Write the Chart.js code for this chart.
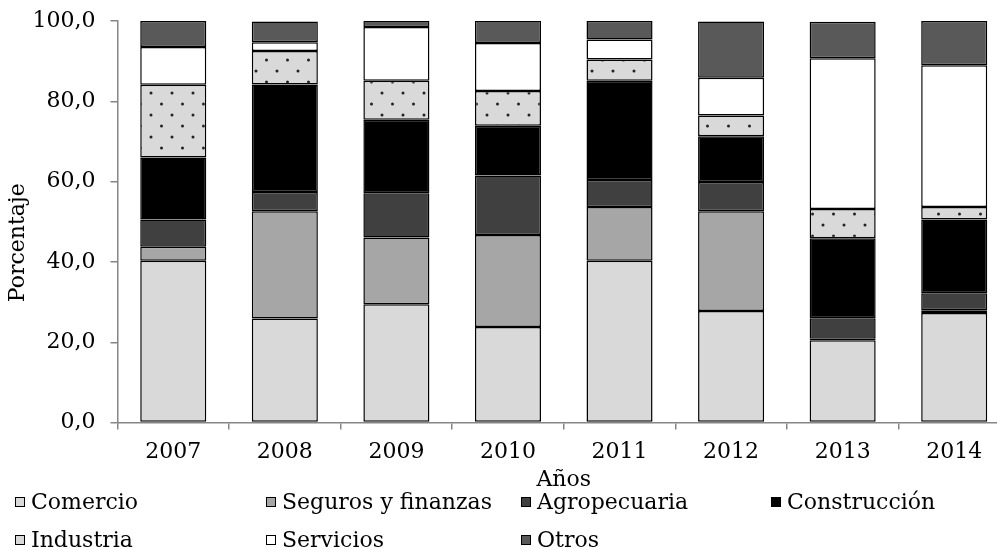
<!DOCTYPE html>
<html>
<head>
<meta charset="utf-8">
<script src="https://cdn.jsdelivr.net/npm/chart.js@4"></script>
<style>
  html, body { margin: 0; padding: 0; background: #fff; overflow: hidden; }
  #wrap { position: relative; width: 1010px; height: 550px; }
  #legend { position: absolute; left: 0; top: 0; width: 1010px; height: 550px; pointer-events: none;
            font-family: "DejaVu Serif", serif; font-size: 22px; color: #000; }
  .item { position: absolute; display: flex; align-items: center; white-space: nowrap; line-height: 1; }
  .box { width: 8px; height: 8px; border: 1px solid #000; margin-right: 6px; }
</style>
</head>
<body>
<div id="wrap">
  <canvas id="myChart" width="1010" height="550"></canvas>
  <div id="legend"></div>
</div>
<script>
const years = ["2007", "2008", "2009", "2010", "2011", "2012", "2013", "2014"];
const yTicks = [0, 20, 40, 60, 80, 100];

const comercio     = [40.3, 25.9, 29.5, 23.8, 40.3, 27.8, 20.5, 27.3];
const seguros      = [3.5, 26.7, 16.6, 22.9, 13.4, 24.8, 0.4, 0.7];
const agropecuaria = [6.8, 4.8, 11.0, 14.8, 6.7, 7.3, 5.1, 4.2];
const construccion = [15.4, 26.8, 18.3, 12.4, 24.7, 11.4, 19.9, 18.4];
const industria    = [18.1, 8.3, 9.7, 8.7, 5.3, 5.2, 7.3, 3.1];
const servicios    = [9.4, 2.2, 13.4, 11.9, 5.0, 9.4, 37.5, 35.3];
const otros        = [6.5, 5.2, 1.6, 5.6, 4.6, 14.0, 9.1, 11.0];

// dotted fill for Industria
const pc = document.createElement("canvas");
pc.width = 21; pc.height = 22;
const px = pc.getContext("2d");
px.fillStyle = "#d9d9d9";
px.fillRect(0, 0, 21, 22);
px.fillStyle = "#222";
[[4, 5], [14.5, 16]].forEach(([x, y]) => {
  px.beginPath(); px.arc(x, y, 1.5, 0, Math.PI * 2); px.fill();
});
const ctx = document.getElementById("myChart").getContext("2d");
const dots = ctx.createPattern(pc, "repeat");

const series = [
  { label: "Comercio", data: comercio, color: "#d9d9d9" },
  { label: "Seguros y finanzas", data: seguros, color: "#a6a6a6" },
  { label: "Agropecuaria", data: agropecuaria, color: "#404040" },
  { label: "Construcción", data: construccion, color: "#000000" },
  { label: "Industria", data: industria, color: dots, swatch: "#d9d9d9" },
  { label: "Servicios", data: servicios, color: "#ffffff" },
  { label: "Otros", data: otros, color: "#595959" },
];

const font = { family: "'DejaVu Serif', serif", size: 22 };
const titleFont = { family: "'DejaVu Serif', serif", size: 22, lineHeight: 1 };

const myChart = new Chart(ctx, {
  type: "bar",
  data: {
    labels: years,
    datasets: series.map((s) => ({
      label: s.label,
      data: s.data,
      backgroundColor: s.color,
      borderColor: "#000",
      borderWidth: 1.5,
      borderSkipped: false,
      barPercentage: 0.592,
      categoryPercentage: 1,
    })),
  },
  options: {
    responsive: false,
    animation: false,
    devicePixelRatio: 1,
    layout: { padding: { top: 21, left: 7, right: 0, bottom: 59 } },
    scales: {
      x: {
        stacked: true,
        title: { display: true, text: "Años", color: "#000", font: titleFont, padding: { top: -5, bottom: 0 } },
        ticks: { color: "#000", font: font, padding: 9, maxRotation: 0 },
        grid: { drawOnChartArea: false, color: "#868686", tickLength: 7, lineWidth: 1.5 },
        border: { color: "#868686", width: 1.5 },
      },
      y: {
        stacked: true,
        min: 0,
        max: 100,
        afterBuildTicks: (axis) => { axis.ticks = yTicks.map((v) => ({ value: v })); },
        afterFit: (axis) => { axis.paddingTop = 0; },
        // trailing spaces push the rotated title a bit lower, as in the original
        title: { display: true, text: "Porcentaje      ", color: "#000", font: titleFont, padding: { top: 0, bottom: -11.5 } },
        ticks: {
          color: "#000",
          font: font,
          padding: 15,
          callback: (v) => v.toFixed(1).replace(".", ","),
        },
        grid: { drawOnChartArea: false, color: "#868686", tickLength: 7, lineWidth: 1.5 },
        border: { color: "#868686", width: 1.5 },
      },
    },
    plugins: {
      legend: { display: false },
      tooltip: { enabled: false },
    },
  },
});

// legend in a fixed grid like the original
const legendEl = document.getElementById("legend");
const cols = [15, 266, 521, 771];
const rows = [502, 540];
series.forEach((s, i) => {
  const el = document.createElement("div");
  el.className = "item";
  el.style.left = cols[i % 4] + "px";
  el.style.top = (rows[Math.floor(i / 4)] - 11) + "px";
  const box = document.createElement("span");
  box.className = "box";
  box.style.background = s.swatch || s.color;
  el.appendChild(box);
  el.appendChild(document.createTextNode(s.label));
  legendEl.appendChild(el);
});
</script>
</body>
</html>
